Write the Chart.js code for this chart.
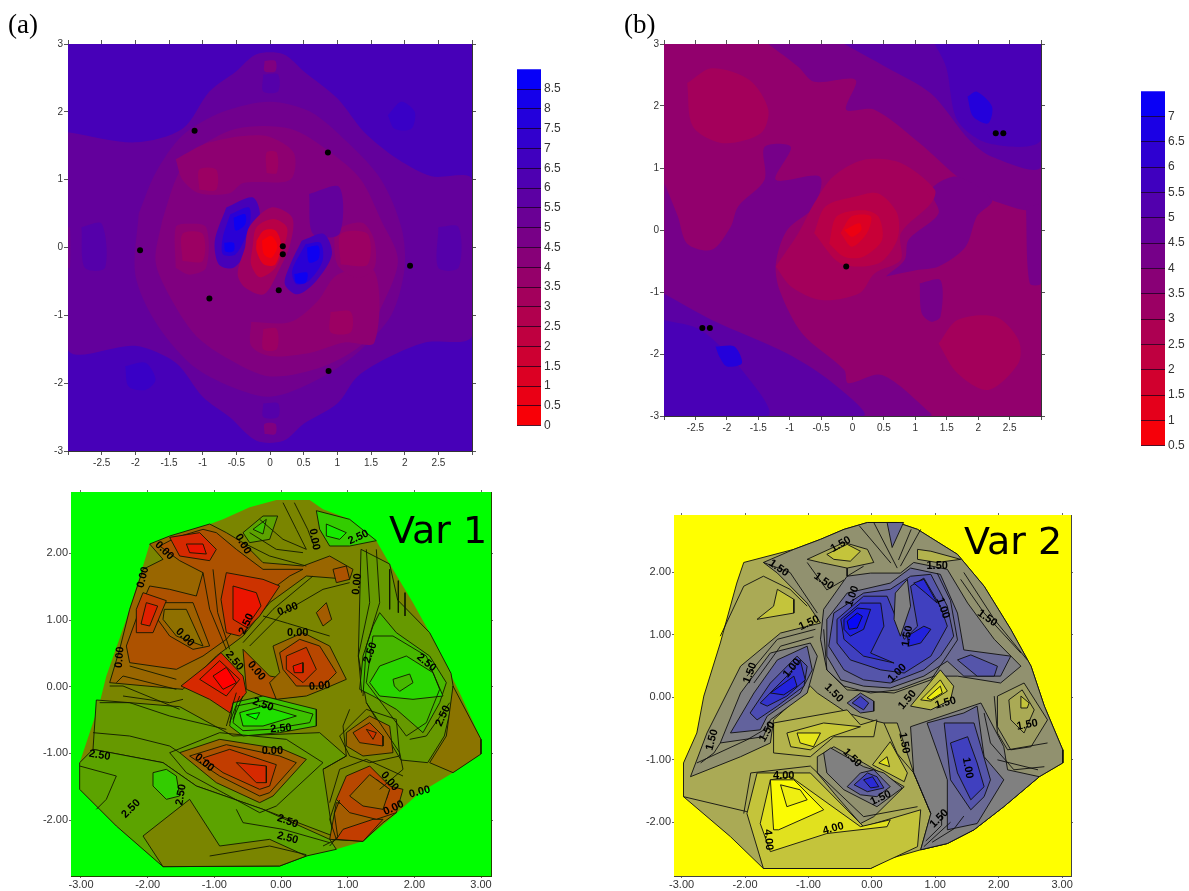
<!DOCTYPE html>
<html><head><meta charset="utf-8">
<style>
html,body{margin:0;padding:0;background:#fff;width:1189px;height:891px;overflow:hidden}
canvas{position:absolute;filter:blur(.5px)}
.t{position:absolute;white-space:nowrap;color:#000;line-height:1;z-index:5}
.p{font-family:"Liberation Serif",serif;font-size:27px}
.v{font-family:"DejaVu Sans",sans-serif;font-size:38px}
</style>
<script src="https://cdn.jsdelivr.net/npm/chart.js@4/dist/chart.umd.js"></script>
</head><body>
<span class="t p" style="left:8px;top:11px">(a)</span>
<span class="t p" style="left:624px;top:11px">(b)</span>
<span class="t v" style="left:389px;top:511px">Var 1</span>
<span class="t v" style="left:964px;top:522px">Var 2</span>
<script>
/* ---------- panel (a), top left: contour band levels and outlines (x,y pairs) ---------- */
const aLevels=[5.5,5,4.5,4,4,4,4,3.5,3.5,3.5,3.5,3.5,3.5,6,6,6,6,7,7,5,4.5,4.5,5.5,6.5,6.5,7.5,7.5,8.5,8.5,8.5,8.5,3.5,2.5,1,0.25];
const aShapes=[
[-3,1.7,-2,1.55,-1.3,1.75,-.9,2.3,-.5,2.6,-.2,2.85,.2,2.85,.5,2.6,1,2.2,1.4,1.7,1.9,1.3,2.4,1.05,3,1,3,-1.3,2.3,-1.4,1.8,-1.6,1.3,-1.9,1,-2.3,.5,-2.6,.2,-2.85,-.2,-2.85,-.6,-2.5,-1,-2.2,-1.4,-1.7,-2,-1.45,-3,-1.5],
[-1.95,.5,-1.7,1.1,-1.3,1.65,-.7,2,0,2.15,.6,2,1.15,1.55,1.65,1,1.95,.3,2,-.3,1.8,-1,1.3,-1.55,.7,-1.95,0,-2.2,-.7,-2,-1.2,-1.7,-1.7,-1.1,-2,-.4],
[-1.6,.4,-1.4,1,-1.15,1.4,-.5,1.75,.3,1.75,.9,1.4,1.35,1,1.65,.4,1.9,-.2,1.6,-1,1.4,-1.4,.8,-1.75,0,-1.9,-.6,-1.65,-1.1,-1.3,-1.5,-.7,-1.7,-.2],
[-1.4,1.3,-.9,1.55,-.1,1.65,.35,1.4,.3,1,-.4,.95,-.6,.8,-1.05,.8,-1.3,1],
[-.28,-1.1,.3,-1.1,.7,-.8,1,-.4,1.55,-.35,1.55,-1.4,1.1,-1.4,.6,-1.55,0,-1.6,-.28,-1.45],
[-1.4,-.3,-1.4,.3,-1.25,.35,-.95,.3,-.95,-.3,-1.2,-.4],
[.95,.25,1.2,.35,1.4,.35,1.55,.1,1.55,-.3,1.3,-.45,1,-.25],
[-1.05,.85,-.8,.85,-.8,1.15,-1.05,1.15],
[-.05,1.1,.1,1.1,.1,1.4,-.05,1.4],
[-.1,-1.2,.1,-1.2,.1,-1.5,-.1,-1.5],
[.9,-.95,1.2,-.95,1.2,-1.25,.9,-1.25],
[-1.3,-.2,-1,-.2,-1,.2,-1.3,.2],
[1.05,-.25,1.45,-.25,1.45,.2,1.05,.2],
[-2.8,.3,-2.5,.35,-2.45,-.3,-2.75,-.3],
[2.5,.3,2.8,.3,2.8,-.3,2.5,-.3],
[-.1,2.55,.12,2.55,.12,2.3,-.1,2.3],
[-.1,-2.3,.12,-2.3,.12,-2.5,-.1,-2.5],
[1.75,1.95,1.95,2.15,2.15,2,2.1,1.75,1.85,1.75],
[-2.15,-1.75,-1.85,-1.7,-1.7,-1.95,-1.85,-2.1,-2.1,-2.05],
[-3,.3,-2.97,.3,-2.97,-.3,-3,-.3],
[-.08,2.75,.08,2.75,.08,2.6,-.08,2.6],
[-.08,-2.75,.08,-2.75,.08,-2.6,-.08,-2.6],
[.58,.79,1.03,.89,1.03,.2,.64,.2],
[-.65,.59,-.26,.74,-.15,.49,-.31,0,-.54,-.3,-.76,-.25,-.82,.1],
[.47,.1,.8,.2,.92,-.1,.69,-.49,.41,-.69,.22,-.54,.3,-.25],
[-.59,.49,-.31,.59,-.31,.3,-.51,-.1,-.7,-.1,-.7,.15],
[.53,.05,.75,.07,.78,-.2,.58,-.49,.39,-.54,.33,-.34],
[-.54,.44,-.37,.49,-.37,.34,-.51,.25],
[-.68,.07,-.54,.07,-.54,-.05,-.66,-.06],
[.55,0,.72,.02,.72,-.17,.58,-.22],
[.36,-.39,.55,-.37,.53,-.52,.39,-.52],
[-.37,0,-.31,.3,.02,.59,.33,.44,.3,.05,.13,-.34,-.09,-.69,-.37,-.59,-.48,-.39],
[-.26,0,-.2,.3,.05,.42,.25,.3,.22,.05,.08,-.3,-.15,-.44,-.28,-.25],
[-.2,.1,-.09,.25,.08,.25,.16,.05,.08,-.25,-.09,-.25,-.2,-.05],
[-.12,.1,.02,.17,.11,.02,.02,-.15,-.09,-.1]
];
const aMarkersX=[-1.12,.86,-1.93,-.9,.13,.19,.19,2.08,.87];
const aMarkersY=[1.72,1.4,-.04,-.75,-.63,.02,-.1,-.27,-1.82];
const aBackLevel=6.5;
const aRange=[-3,3,-3,3];
const aXTicks=[-3,-2.5,-2,-1.5,-1,-.5,0,.5,1,1.5,2,2.5,3];
const aYTicks=[-3,-2,-1,0,1,2,3];
const aBarEdges=[0,.5,1,1.5,2,2.5,3,3.5,4,4.5,5,5.5,6,6.5,7,7.5,8,8.5,9];

/* ---------- panel (b), top right ---------- */
const bLevels=[4.25,4.25,5,5.5,6.5,4.25,5,5.5,6.5,4.25,4.25,3,3,3,2.5,2,1.5,1];
const bShapes=[
[-1.34,3,-.86,2.63,-.61,2.39,.05,2.42,-.1,1.94,.35,1.94,1.07,1.4,1.67,.86,2.22,.48,3,.38,3,3],
[2.76,.38,3,.38,3,-.86,2.82,-.86],
[-.13,3,.53,2.63,1.25,2.2,1.86,1.45,2.22,1.18,3,1.02,3,3],
[1.31,3,1.49,2.63,1.67,1.77,2.16,1.4,3,1.45,3,3],
[1.83,2.15,1.98,2.23,2.22,1.99,2.16,1.72,1.92,1.83],
[-2.99,.75,-2.78,.22,-2.63,-.22,-2.24,-.32,-1.94,.05,-1.82,.38,-1.4,.81,-1.4,1.34,-.98,1.34,-1.22,.81,-.52,.86,-.61,.38,-1.04,0,-1.22,-.54,-1.16,-.97,-.8,-1.67,-.13,-2.26,-.07,-2.47,.47,-2.34,1.25,-2.96,1.25,-3,-3,-3],
[-3,-1.03,-2.24,-1.45,-1.04,-1.99,-.31,-2.47,.17,-3,-3,-3],
[-3,-1.45,-2.42,-1.61,-1.76,-2.26,-1.34,-3,-3,-3],
[-2.18,-1.88,-1.88,-1.88,-1.76,-2.15,-2,-2.2,-2.12,-2.04],
[.53,-.75,1.01,-.65,1.37,-.59,1.8,-.27,1.98,.22,2.22,.48,1.67,.86,1.25,.65,1.37,.27,.89,-.16,.83,-.48],
[1.07,-.86,1.4,-.81,1.4,-1.4,1.25,-1.48,1.1,-1.34],
[-2.63,2.37,-2.24,2.61,-1.64,2.42,-1.34,1.94,-1.46,1.56,-2.06,1.4,-2.54,1.67],
[1.37,-1.83,1.67,-1.45,2.28,-1.4,2.64,-1.77,2.64,-2.15,2.16,-2.58,1.67,-2.31],
[-1.22,-.59,-.86,-.05,-.61,.43,-.31,.86,.17,1.13,.77,1.08,1.31,.65,1.25,.43,.77,-.05,.77,-.48,.35,-.7,.11,-1.02,-.49,-1.13,-.98,-.91],
[-.61,-.05,-.43,.38,.05,.54,.41,.59,.71,.27,.71,-.16,.41,-.54,-.19,-.54],
[-.37,-.22,-.25,.22,.17,.32,.41,.22,.47,-.16,.17,-.43,-.13,-.43],
[-.19,-.05,-.01,.22,.29,.22,.23,-.05,-.01,-.27],
[-.13,0,.11,.11,.14,0,-.01,-.11]
];
const bMarkersX=[2.28,2.4,-2.39,-2.27,-.1];
const bMarkersY=[1.56,1.56,-1.58,-1.58,-.59];
const bBackLevel=3.5;
const bRange=[-3,3,-3,3];
const bXTicks=[-3,-2.5,-2,-1.5,-1,-.5,0,.5,1,1.5,2,2.5,3];
const bYTicks=[-3,-2,-1,0,1,2,3];
const bBarEdges=[.5,1,1.5,2,2.5,3,3.5,4,4.5,5,5.5,6,6.5,7,7.5];

/* ---------- Var 1, bottom left ---------- */
const v1Outline=[-.07,2.8,.43,2.8,.63,2.66,1.03,2.51,1.43,2.19,1.63,1.84,1.98,1.26,2.23,.81,2.48,.31,2.68,-.09,3,-.79,3,-1.01,2.58,-1.29,2.08,-1.59,1.63,-1.99,1.23,-2.32,.83,-2.44,.38,-2.54,-.02,-2.69,-1.77,-2.7,-2.47,-2.09,-3.02,-1.54,-3.02,-1.14,-2.72,-.24,-2.62,.16,-2.32,1.01,-2.07,1.81,-1.97,2.14,-1.27,2.36,-.87,2.51,-.47,2.69];
const v1OutlineLevel=1.5;
const v1Levels=[2.5,2.5,3,1.5,5,.7,0,-1,-.3,.5,-3,-4,-2.5,-4,-2,-3.5,-3,-4,-5,-1,0,-1.5,-2.5,-4,-.5,-1,4.5,6,7.5,4,5.5,4,5,6.5,3,4.5,0,-1.5,-2.5,0,-1,-2,-3,-.5,-1.5,-3,-2,0];
const v1Shapes=[
[1.2,2.06,1.63,1.84,1.75,1.3,2.23,.81,2.55,.2,2.6,-.1,2.45,-.74,2.2,-1.14,1.8,-1.1,1.28,-.24,1.16,.46],
[-2.77,-.2,-1.52,-.3,-.72,-.74,.58,-.69,.98,-1.04,.63,-1.24,.78,-2.24,-.27,-1.84,-1.27,-1.49,-1.77,-1.14,-2.82,-.94],
[-3.02,-1.14,-2.82,-.94,-1.77,-1.14,-1.27,-1.49,-.27,-1.84,.73,-2.29,.83,-2.44,.38,-2.54,-.02,-2.69,-1.77,-2.7,-2.47,-2.09,-3.02,-1.54],
[-2.07,-2.24,-1.37,-1.69,-.92,-2.39,-.17,-2.29,.38,-2.54,-.02,-2.69,-1.77,-2.7],
[-1.92,-1.29,-1.72,-1.24,-1.57,-1.34,-1.52,-1.64,-1.72,-1.69,-1.92,-1.49],
[2.58,.01,3,-.79,3,-1.01,2.58,-1.29,2.23,-1.14,2.48,-.74],
[-2.07,1.76,-2.27,1.16,-2.42,.56,-2.57,.06,-1.47,-.04,-.97,.46,-.57,.76,-.17,1.26,.38,1.66,1.03,1.61,1.08,1.76,.73,1.96,.33,1.81,-.27,1.86,-.57,2.16,-.82,2.31,-1.07,2.44,-1.67,2.26,-1.97,2.14,-1.77,1.91],
[-1.97,1.51,-2.12,1.16,-2.32,.61,-2.27,.36,-1.57,.26,-1.17,.46,-.82,.71,-.27,1.36,.13,1.66,.33,1.76,-.27,1.76,-.67,2.06,-.97,2.31,-1.17,2.36,-1.57,2.24,-1.82,2.11,-1.52,1.89,-1.17,1.71,-1.27,1.36,-1.67,1.46],
[-1.85,1.26,-1.32,1.26,-1.07,.61,-1.32,.56,-1.67,.76,-1.85,1.01],
[-1.75,1.16,-1.42,1.16,-1.17,.61,-1.57,.76,-1.77,1.01],
[-1.67,2.24,-1.22,2.31,-.97,2.06,-1.07,1.89,-1.52,1.96],
[-1.42,2.14,-1.17,2.14,-1.12,1.99,-1.37,2.01],
[-.82,1.71,-.27,1.61,-.02,1.51,-.32,1.06,-.62,.76,-.82,.81,-.9,1.31],
[-.72,1.51,-.37,1.41,-.3,1.21,-.52,.89,-.72,1.01],
[-2.07,1.41,-1.72,1.29,-1.92,.81,-2.17,.81,-2.17,1.16],
[-2.02,1.26,-1.85,1.21,-1.97,.91,-2.1,.94],
[-1.5,.01,-1.12,.31,-.9,.51,-.57,.16,-.52,-.09,-.77,-.39,-1.07,-.19],
[-1.22,.11,-.92,.39,-.62,.11,-.82,-.14],
[-1.02,.16,-.82,.29,-.67,.06,-.87,-.04],
[-.57,.56,-.17,.16,.38,.06,.33,-.14,-.17,-.19,-.52,-.04],
[-.12,.61,.33,.81,.73,.61,.98,.11,.63,-.04,.38,-.14,-.07,-.19,-.17,.06,-.02,.21],
[-.02,.51,.28,.71,.58,.61,.83,.21,.63,.01,.23,.01,.03,.26],
[.08,.46,.38,.59,.53,.26,.33,.06,.08,.26],
[.18,.31,.33,.36,.33,.21,.2,.21],
[.53,1.11,.68,1.26,.76,1.01,.63,.91],
[.78,1.76,.98,1.81,1.03,1.61,.83,1.56],
[-.72,-.24,-.27,-.14,.53,-.34,.53,-.59,-.02,-.69,-.57,-.74,-.77,-.59],
[-.62,-.39,-.27,-.29,.23,-.44,-.27,-.59,-.57,-.59],
[-.52,-.42,-.32,-.39,-.37,-.49],
[1.48,1.11,1.73,.81,2.23,.46,2.48,.06,2.38,-.24,2.13,-.69,1.73,-.34,1.38,-.14,1.18,-.04,1.23,.46,1.38,.91],
[1.48,.31,1.88,.46,2.28,.21,2.43,-.14,1.98,-.19,1.48,-.14,1.33,.06],
[1.68,.11,1.93,.19,1.98,.06,1.78,-.07,1.7,.01],
[.53,2.64,1.03,2.51,1.43,2.19,1.03,2.11,.73,2.11,.58,2.36],
[.68,2.44,.98,2.31,.88,2.21,.68,2.26],
[-.57,2.31,-.27,2.56,-.05,2.56,-.17,2.21,-.47,2.16],
[-.42,2.36,-.22,2.51,-.27,2.29],
[.98,-.69,1.33,-.44,1.63,-.59,1.68,-.99,1.23,-1.04,.98,-.89],
[1.08,-.69,1.33,-.54,1.53,-.74,1.53,-.89,1.18,-.84],
[1.28,-.64,1.43,-.69,1.38,-.79],
[-1.52,-.99,-.92,-.79,.03,-.94,.38,-1.09,-.12,-1.64,-.32,-1.74,-.97,-1.44],
[-1.37,-1.04,-.82,-.87,-.02,-1.04,.23,-1.14,-.17,-1.59,-.32,-1.64,-.92,-1.34],
[-1.17,-1.07,-.77,-.94,-.07,-1.17,-.17,-1.49,-.32,-1.54,-.87,-1.29],
[-.67,-1.14,-.22,-1.19,-.22,-1.44,-.37,-1.44],
[.73,-2.29,.83,-1.74,1.73,-1.89,1.53,-2.04,1.23,-2.32],
[.83,-1.69,.98,-1.34,1.33,-1.19,1.63,-1.49,1.83,-1.54,1.73,-1.89,1.43,-1.99,1.03,-1.89],
[1.23,-1.59,1.43,-1.39,1.63,-1.54,1.58,-1.69,1.33,-1.74],
[.83,-2.29,.93,-2.14,1.38,-1.99,1.53,-1.99,1.23,-2.32],
[1.03,-1.64,1.33,-1.32,1.63,-1.54,1.53,-1.84,1.23,-1.79]
];
const v1Lines=[
[1.28,2.06,1.33,1.26,1.16,.46,1.21,-.09],
[1.43,2.06,1.48,1.26,1.28,.61,1.23,-.14],
[1.63,1.76,1.63,1.16],
[1.76,1.59,1.76,1.11],
[1.86,1.41,1.86,1.06],
[-2.72,-.24,-2.27,-.24,-1.67,-.44,-.82,-.64],
[-2.57,.01,-2.37,.01,-1.52,-.34],
[-2.82,-.69,-2.27,-.74,-1.67,-.89,-1.52,-.99],
[-3.02,-1.19,-2.47,-1.34,-2.62,-1.69,-2.77,-1.84],
[-.67,-1.84,-.57,-2.04,.03,-2.14,.73,-2.34],
[-1.07,-2.54,-.17,-2.39,.38,-2.52],
[1.93,-.79,2.18,-.74,2.53,-.24],
[1.28,-.24,1.78,-.99,1.83,-1.24,1.48,-1.54],
[.63,-1.24,.98,-1.04,.93,-.59,1.03,-.34],
[-1.17,1.71,-1.07,1.16,-.82,.56],
[-1.02,1.76,-.95,1.11,-.77,.56],
[-.57,2.16,-.17,1.96,.38,1.81],
[-.47,2.31,-.07,2.06,.33,2.01],
[-.32,2.51,.03,2.21,.38,2.06],
[.03,2.76,.23,2.36,.38,2.06],
[.2,2.76,.4,2.36,.5,2.1],
[-.57,.66,-.12,1.16,.48,1.66],
[-.47,.61,.03,1.11,.63,1.46,1.03,1.56],
[-.27,1.06,.1,.95,.73,.76],
[-1.67,-.99,-.92,-.69,.08,-.79,.63,-1.14,-.07,-1.79,-.32,-1.89,-1.42,-1.29,-1.67,-.99],
[.73,-1.74,.88,-1.24,1.28,-1.09,1.83,-1.34],
[.88,-.74,1.28,-.34,1.73,-.49,1.78,-1.04,1.33,-1.14,1.03,-1.04,.88,-.74],
[-2.37,-.14,-1.67,-.24,-1.47,-.19],
[-2.47,.06,-2.37,.16,-1.57,-.04],
[-2.27,.31,-1.57,.11],
[1.38,.76,1.28,.06,1.88,-.74,2.18,-.54,2.38,-.04,2.18,.46,1.68,.76,1.38,.76],
[-.67,-.29,-.27,-.21,.48,-.41,.43,-.54,-.17,-.64,-.57,-.66,-.72,-.54,-.67,-.29],
[-.77,-.54,-.62,-.14],
[-.72,-.49,-.57,-.14],
[-.82,-.59,-.67,-.09],
[.63,-2.39,.83,-2.29,.73,-1.99,.83,-1.69],
[.73,-2.39,.85,-2.25,.8,-1.9,.88,-1.7]
];
const v1LabelText=["0.00","0.00","0.00","0.00","0.00","0.00","0.00","0.00","0.00","0.00","0.00","0.00","0.00","0.00","0.00","0.00","2.50","2.50","2.50","2.50","2.50","2.50","2.50","2.50","2.50","2.50","2.50","2.50","2.50"];
const v1LabelX=[-1.75,-2.07,-.57,.5,1.14,.1,.25,-2.42,-1.44,-.37,.58,-.13,-1.15,1.63,2.08,1.69,-.52,-.7,1.16,1.34,2.18,2.43,-.27,0,-2.72,-1.5,-2.25,.1,.1];
const v1LabelY=[2.04,1.64,2.14,2.21,1.54,1.16,.81,.44,.74,.24,.01,-.97,-1.14,-1.42,-1.58,-1.82,.94,.39,2.24,.51,.36,-.44,-.27,-.63,-1.03,-1.62,-1.83,-2.02,-2.27];
const v1LabelAngle=[45,-75,60,80,-85,-20,0,-85,45,50,-5,0,40,50,-15,-25,-65,50,-25,-70,40,-65,20,-5,10,-80,-45,20,15];
const v1Range=[-3.15,3.15,-2.84,2.92];
const v1XTicks=[-3,-2,-1,0,1,2,3];
const v1YTicks=[-2,-1,0,1,2];

/* ---------- Var 2, bottom right ---------- */
const v2Outline=[-.07,2.8,.4,2.8,.72,2.69,1.35,2.29,1.77,1.78,2.19,1.09,2.51,.5,2.72,-.14,3.01,-.84,3.01,-1.05,2.64,-1.27,2.08,-1.75,1.61,-2.12,1.19,-2.34,.77,-2.44,.29,-2.58,-.02,-2.74,-1.71,-2.74,-2.23,-2.23,-2.97,-1.59,-2.97,-1.05,-2.76,-.57,-2.65,.02,-2.39,.87,-2.13,1.83,-2.02,2.16,-1.23,2.37,-.81,2.53,-.44,2.69];
const v2OutlineLevel=3;
const v2Levels=[2.4,3,3.6,3.2,3.6,2,1.5,1,.5,.1,-.3,-.8,0,-.2,2,1.5,1,2,1.3,.8,.2,-.2,3.2,3.7,4.4,3.5,4.3,3.6,4.3,4.9,4.6,2.4,2,1.3,.5,0,2,1.5,1,.5,2.7,3,3.6,3.3,4,4.6,1.4,.5];
const v2Shapes=[
[-1.71,2.16,-1.23,2.37,-.81,2.53,-.44,2.69,-.07,2.8,.4,2.8,.72,2.69,1.35,2.29,1.77,1.78,2.19,1.09,2.51,.5,2.72,-.14,3.01,-.84,3.01,-1.05,2.64,-1.27,2.08,-1.75,1.61,-2.12,1.19,-2.34,.77,-2.44,.93,-1.86,.66,-1.21,.4,-.41,.19,-.41,-.02,-.36,-.39,-.25,-.86,.07,-.97,.18,-1.55,-.36,-1.6,-.73,-2.07,-.95,-2.86,-1.27,-2.6,-.57,-2.07,.5,-1.44,1.03,-.81,1.19,-1.02,1.51,-1.49,1.99],
[-1.02,2.21,-.44,2.48,-.07,2.37,.03,2.16,-.39,2.07,-.81,2.16],
[-.71,2.29,-.39,2.45,-.18,2.34,-.34,2.18,-.6,2.21],
[.72,2.37,.93,2.34,1.4,2.21,1.03,2.16,.72,2.21],
[-1.49,1.73,-1.23,1.57,-1.23,1.35,-1.81,1.25,-1.55,1.46],
[-.76,1.41,-.39,1.94,-.02,1.99,.45,1.99,.66,2.16,1.19,2.05,1.51,1.51,1.93,.93,2.35,.5,2.03,.23,1.35,.34,.98,.34,.4,.12,-.02,.07,-.44,.18,-.71,.44,-.81,.93],
[-.71,1.25,-.39,1.67,.29,1.83,.61,2.07,1.08,1.97,1.35,1.35,1.45,.76,2.19,.66,2.03,.34,1.45,.34,1.19,.58,.82,.34,.29,.15,-.13,.18,-.49,.28,-.71,.66],
[-.6,1.35,-.13,1.67,.29,1.73,.61,1.94,.93,1.97,1.19,1.46,1.29,.98,1.08,.66,.82,.44,.29,.23,-.13,.28,-.44,.44,-.68,.82],
[-.55,1.25,-.13,1.62,.24,1.62,.35,1.35,.51,.93,.72,1.14,.61,1.78,.82,1.91,1.08,1.46,1.19,1.14,.93,.66,.51,.39,.14,.44,-.34,.6,-.55,.87],
[-.49,1.25,-.18,1.51,.14,1.51,.19,1.14,-.02,.71,.35,.55,-.13,.66,-.44,.93],
[-.44,1.25,-.23,1.43,-.02,1.41,-.13,1.09,-.34,.98,-.44,1.09],
[-.39,1.22,-.23,1.35,-.15,1.3,-.23,1.11,-.36,1.09],
[.66,1.83,.82,1.89,1.03,1.51,.85,1.67],
[.56,.98,.82,1.14,.93,1.09,.77,.87,.58,.82],
[.37,1.67,.56,1.89,.61,1.46,.45,.98,.35,1.25],
[.24,2.8,.5,2.8,.32,2.4],
[1.35,.6,1.56,.68,1.98,.5,1.93,.34,1.66,.34],
[-2.39,-.73,-2.07,.07,-1.6,.71,-.97,.87,-.86,.66,-1.02,.07,-1.6,-.36,-1.71,-.63],
[-2.23,-.57,-1.86,.07,-1.49,.6,-1.02,.82,-.94,.44,-1.13,.07,-1.65,-.3,-1.76,-.52],
[-1.92,-.25,-1.6,.23,-1.18,.66,-1.02,.5,-1.07,.18,-1.49,-.14,-1.81,-.36],
[-1.76,-.09,-1.34,.34,-1.13,.6,-1.05,.28,-1.34,.02,-1.65,-.14],
[-1.6,.07,-1.23,.34,-1.18,.18,-1.39,.04],
[-1.55,-.41,-.39,-.2,-.18,-.44,.08,-.36,.03,-.63,-.6,-.63,-.97,-.95,-1.55,-.89],
[-1.34,-.57,-.76,-.41,-.18,-.47,-.65,-.63,-.97,-.84,-1.28,-.79],
[-1.18,-.57,-.81,-.57,-.92,-.79,-1.13,-.73],
[.01,-1.08,.29,-.71,.56,-1.21,.51,-1.35],
[.11,-1.05,.24,-.95,.28,-1.11],
[-1.81,-1.21,-.97,-1.21,-.13,-2.07,.77,-1.8,.72,-2.39,-.02,-2.74,-1.71,-2.74,-1.97,-1.86],
[-1.6,-1.32,-1.28,-1.27,-.18,-2.07,.29,-1.96,.24,-2.07,-.71,-2.18,-1.6,-2.47,-1.76,-2.02],
[-1.55,-2.12,-1.6,-1.32,-1.23,-1.32,-.76,-1.8,-1.47,-2.12],
[-1.44,-1.4,-1.13,-1.48,-1.02,-1.64,-1.34,-1.75],
[-.86,-.95,-.6,-.79,-.13,-1.05,.51,-1.43,.03,-1.91,-.18,-2.02,-.55,-1.59,-.86,-1.21],
[-.76,-.89,-.65,-.81,-.13,-1.11,.19,-1.21,.48,-1.45,.08,-1.75,-.44,-1.48,-.71,-1.21],
[-.39,-1.43,-.18,-1.21,.03,-1.16,.29,-1.43,.08,-1.59,-.18,-1.56],
[-.28,-1.4,-.07,-1.21,.08,-1.27,.19,-1.45,-.07,-1.51],
[-.13,-1.32,.01,-1.27,.11,-1.43,-.02,-1.45],
[.61,-.47,1.72,-.09,2.08,-.79,2.14,-1.16,2.64,-1.27,2.08,-1.75,1.61,-2.12,1.19,-2.34,.77,-2.44,.93,-1.86,.66,-1.21],
[.87,-.41,1.45,-.25,1.66,-.14,1.77,-.95,2.08,-1.32,1.66,-2.02,1.19,-2.12,1.19,-1.32],
[1.14,-.41,1.61,-.41,1.72,-.79,1.87,-1.32,1.77,-1.59,1.56,-1.8,1.24,-1.32],
[1.24,-.73,1.51,-.63,1.66,-1.05,1.77,-1.43,1.56,-1.64,1.35,-1.21],
[1.98,.02,2.4,.23,2.77,-.36,2.51,-.79,2.19,-.84,1.98,-.47],
[2.16,-.04,2.37,.12,2.56,-.2,2.4,-.57,2.19,-.36],
[2.35,.02,2.48,-.09,2.45,-.17,2.35,-.17],
[.61,-.14,1.08,.44,1.29,.18,1.24,-.04,.93,-.2],
[.77,-.04,1.08,.28,1.19,.1,.93,-.06],
[.87,-.01,1.08,.18,1.11,.07,.93,-.04],
[-.39,-.09,-.18,.07,.03,-.06,.03,-.22,-.18,-.25],
[-.31,-.09,-.18,.02,-.05,-.09,-.13,-.2]
];
const v2Lines=[
[-2.97,-1.59,-1.97,-1.83],
[-2.76,-1.05,-1.97,-.68,-1.6,-.46],
[-2.39,.98,-2.02,1.78,-1.71,1.94,-1.29,1.73,-1.02,1.46],
[.19,-.41,.4,-.9,.66,-1.21,.93,-1.86],
[1.98,-1,2.62,-1.16],
[-1.71,2.16,-1.29,2,-.86,1.35],
[-1.02,2.16,-.71,1.72,-.44,1.88],
[-.39,2.07,-.39,1.94,-.13,2.1],
[.03,2.8,.4,2.07],
[.77,2.69,.45,2.1],
[.62,2.69,.42,2.2],
[-.2,2.75,.3,2.15],
[1.4,1.89,1.77,1.35,2.35,.71],
[1.45,2,1.93,1.25,2.45,.6],
[-2.7,-1.05,-2.49,-.89,-2.39,-.73],
[-1.86,.23,-1.44,.82,-.92,.97],
[-1.97,.34,-1.49,.93,-.89,1.09],
[1.93,.02,1.98,-.57,2.14,-.84,2.77,-.73],
[1.77,-.25,1.87,-.73,2.24,-1.16,2.72,-1.11],
[-2.02,-1.86,-1.91,-1.21,-.97,-1.1,-.13,-1.91,.72,-1.75],
[.82,-2.39,1.24,-2],
[.85,-2.3,1.1,-2.05,1.1,-1.8],
[.95,-2.32,1.3,-2.1,1.45,-1.9],
[-.76,1.09,-.71,.44,-.39,.12,.35,.07,.93,.28,1.35,.92,1.24,1.55,1.03,1.99]
];
const v2LabelText=["1.50","1.50","1.50","1.50","1.50","1.50","1.00","1.00","1.50","1.00","1.50","1.00","1.50","1.50","1.50","1.50","1.50","1.50","1.50","1.00","1.50","1.50","1.50","4.00","4.00","4.00"];
const v2LabelX=[-.49,-1.47,-.76,-.99,1.03,1.82,-.31,1.12,.56,.4,-1.92,-1.26,-.6,.56,1.16,-1.65,.51,-2.52,2.45,1.51,-.31,.14,1.06,-1.39,-.61,-1.63];
const v2LabelY=[2.45,2.07,1.86,1.19,2.1,1.27,1.62,1.43,.98,.39,.39,.47,.07,-.04,-.09,-.55,-.73,-.68,-.44,-1.13,-.97,-1.61,-1.94,-1.26,-2.1,-2.28];
const v2LabelAngle=[-30,35,35,-25,0,35,-70,70,-80,-45,-70,-50,45,-50,-15,-60,80,-75,-10,80,45,-25,-45,0,-15,85];
const v2Range=[-3.12,3.14,-2.86,2.92];
const v2XTicks=[-3,-2,-1,0,1,2,3];
const v2YTicks=[-2,-1,0,1,2];

/* ---------- colour ramps ---------- */
const rgb=(r,g,b)=>`rgb(${Math.round(r)},${Math.round(g)},${Math.round(b)})`;
const clamp=t=>Math.max(0,Math.min(1,t));
const rampA=v=>{const t=clamp(v/9);return rgb(255*(1-t),0,255*t)};
const rampB=v=>{const t=clamp((v-.5)/7);return rgb(255*(1-t),0,255*t)};
const rampV1=v=>{const t=clamp((v+5)/12.5);return rgb(255*(1-t),255*t,0)};
const rampV2=v=>{const t=clamp((5-v)/6);return rgb(255*(1-t),255*(1-t),255*t)};

/* ---------- builders ---------- */
const pairs=f=>{const o=[];for(let i=0;i<f.length;i+=2)o.push({x:f[i],y:f[i+1]});return o};
const ring=f=>{const p=pairs(f);p.push(p[0]);return p};
function poly(flat,fill,stroke,tension){
  return {data:ring(flat),showLine:true,fill:'shape',backgroundColor:fill,
    borderColor:stroke||'transparent',borderWidth:1,pointRadius:0,tension:tension||0};
}
function labelPlugin(xs,ys,txt,ang){
  return {id:'contourLabels',afterDatasetsDraw(c){
    const g=c.ctx;g.save();
    g.beginPath();g.rect(c.chartArea.left,c.chartArea.top,c.chartArea.width,c.chartArea.height);g.clip();
    g.font='bold 11px "Liberation Sans"';g.fillStyle='#000';g.textAlign='center';g.textBaseline='middle';
    txt.forEach((s,i)=>{g.save();g.translate(c.scales.x.getPixelForValue(xs[i]),c.scales.y.getPixelForValue(ys[i]));
      g.rotate(ang[i]*Math.PI/180);g.fillText(s,0,0);g.restore()});
    g.restore();
  }};
}
function place(rect,m){
  const cv=document.createElement('canvas');
  cv.width=rect[2]+m[0]+m[2];cv.height=rect[3]+m[1]+m[3];
  cv.style.left=(rect[0]-m[0])+'px';cv.style.top=(rect[1]-m[1])+'px';
  cv.style.width=cv.width+'px';cv.style.height=cv.height+'px';
  document.body.appendChild(cv);
  return cv;
}
function panel(o){
  const m=[46,12,12,30];
  const cv=place(o.rect,m);
  const [x0,x1,y0,y1]=o.range;
  const ds=o.sets.slice();
  ds.forEach((d,i)=>{d.order=ds.length-i});
  const fx=v=>o.digits?v.toFixed(2):(Math.abs(v)===3?'':String(v));
  const fy=v=>o.digits?v.toFixed(2):String(v);
  const font={family:'"Liberation Sans"',size:o.fontSize};
  const common={grid:{drawOnChartArea:false,tickLength:o.tick,color:o.tickColor},border:{color:o.edge}};
  new Chart(cv,{type:'scatter',data:{datasets:ds},
    plugins:o.plugins||[],
    options:{responsive:false,animation:false,events:[],devicePixelRatio:1,
      layout:{padding:0},
      plugins:{legend:{display:false},tooltip:{enabled:false},title:{display:false}},
      scales:{
        x:{type:'linear',position:'bottom',min:x0,max:x1,...common,
          afterBuildTicks:a=>{a.ticks=o.xTicks.map(v=>({value:v}))},
          afterFit:a=>{a.height=m[3]},
          ticks:{callback:fx,font,color:'#333',autoSkip:false,maxRotation:0,padding:o.pad}},
        y:{type:'linear',position:'left',min:y0,max:y1,...common,
          afterBuildTicks:a=>{a.ticks=o.yTicks.map(v=>({value:v}))},
          afterFit:a=>{a.width=m[0]},
          ticks:{callback:fy,font,color:'#333',autoSkip:false,padding:1}},
        x2:{type:'linear',position:'top',min:x0,max:x1,...common,
          afterBuildTicks:a=>{a.ticks=o.xTicks.map(v=>({value:v}))},
          afterFit:a=>{a.height=m[1]},ticks:{display:false}},
        y2:{type:'linear',position:'right',min:y0,max:y1,...common,
          afterBuildTicks:a=>{a.ticks=o.yTicks.map(v=>({value:v}))},
          afterFit:a=>{a.width=m[2]},ticks:{display:false}}
      }}});
}
function colorbar(rect,edges,ramp){
  const m=[2,8,34,8];
  const cv=place(rect,m);
  const ds=[];
  for(let i=0;i<edges.length-1;i++)ds.push({data:[[edges[i],edges[i+1]]],
    backgroundColor:ramp((edges[i]+edges[i+1])/2),barPercentage:1,categoryPercentage:1,borderWidth:0,grouped:false});
  const ticks=edges.slice(0,-1);
  new Chart(cv,{type:'bar',data:{labels:[''],datasets:ds},
    options:{responsive:false,animation:false,events:[],devicePixelRatio:1,
      layout:{padding:{left:m[0],top:m[1],bottom:m[3],right:0}},
      plugins:{legend:{display:false},tooltip:{enabled:false}},
      scales:{
        x:{display:false,afterFit:a=>{a.height=0}},
        y:{type:'linear',position:'right',min:edges[0],max:edges[edges.length-1],
          afterBuildTicks:a=>{a.ticks=ticks.map(v=>({value:v}))},
          afterFit:a=>{a.width=m[2]},
          grid:{color:'rgba(20,0,30,.75)',z:1,drawTicks:false},border:{display:false},
          ticks:{font:{family:'"Liberation Sans"',size:12},color:'#333',padding:3,autoSkip:false,callback:v=>String(v)}}
      }}});
}
function bandSets(levels,shapes,ramp,stroke,tension){return shapes.map((s,i)=>poly(s,ramp(levels[i]),stroke,tension))}
function backSet(r,color){return poly([r[0],r[2],r[1],r[2],r[1],r[3],r[0],r[3]],color)}
function lineSets(list,stroke){return list.map(l=>({data:pairs(l),showLine:true,fill:false,borderColor:stroke,borderWidth:1,pointRadius:0,tension:0}))}
function markerSet(xs,ys){return {data:xs.map((x,i)=>({x,y:ys[i]})),pointRadius:3,pointBackgroundColor:'#000',pointBorderWidth:0,showLine:false}}

const contour='rgba(18,26,0,.9)';
const contour2='rgba(15,15,15,.9)';
panel({rect:[68,44,404,407],range:aRange,xTicks:aXTicks,yTicks:aYTicks,fontSize:10,tick:4,pad:2,tickColor:'#555',edge:'#333',
  sets:[backSet(aRange,rampA(aBackLevel)),...bandSets(aLevels,aShapes,rampA,null,.3),markerSet(aMarkersX,aMarkersY)]});
panel({rect:[664,44,377,372],range:bRange,xTicks:bXTicks,yTicks:bYTicks,fontSize:10,tick:4,pad:2,tickColor:'#555',edge:'#333',
  sets:[backSet(bRange,rampB(bBackLevel)),...bandSets(bLevels,bShapes,rampB,null,.3),markerSet(bMarkersX,bMarkersY)]});
panel({rect:[71,492,420,384],range:v1Range,xTicks:v1XTicks,yTicks:v1YTicks,fontSize:11,tick:2,pad:0,digits:true,tickColor:'#666',edge:'#224400',
  sets:[backSet(v1Range,'#00ff00'),poly(v1Outline,rampV1(v1OutlineLevel)),...bandSets(v1Levels,v1Shapes,rampV1,contour),...lineSets(v1Lines,contour)],
  plugins:[labelPlugin(v1LabelX,v1LabelY,v1LabelText,v1LabelAngle)]});
panel({rect:[674,515,397,361],range:v2Range,xTicks:v2XTicks,yTicks:v2YTicks,fontSize:11,tick:2,pad:0,digits:true,tickColor:'#666',edge:'#444',
  sets:[backSet(v2Range,'#ffff00'),poly(v2Outline,rampV2(v2OutlineLevel),contour2),...bandSets(v2Levels,v2Shapes,rampV2,contour2),...lineSets(v2Lines,contour2)],
  plugins:[labelPlugin(v2LabelX,v2LabelY,v2LabelText,v2LabelAngle)]});
colorbar([517,67,24,361],aBarEdges,rampA);
colorbar([1141,89,24,359],bBarEdges,rampB);
</script>
</body></html>
